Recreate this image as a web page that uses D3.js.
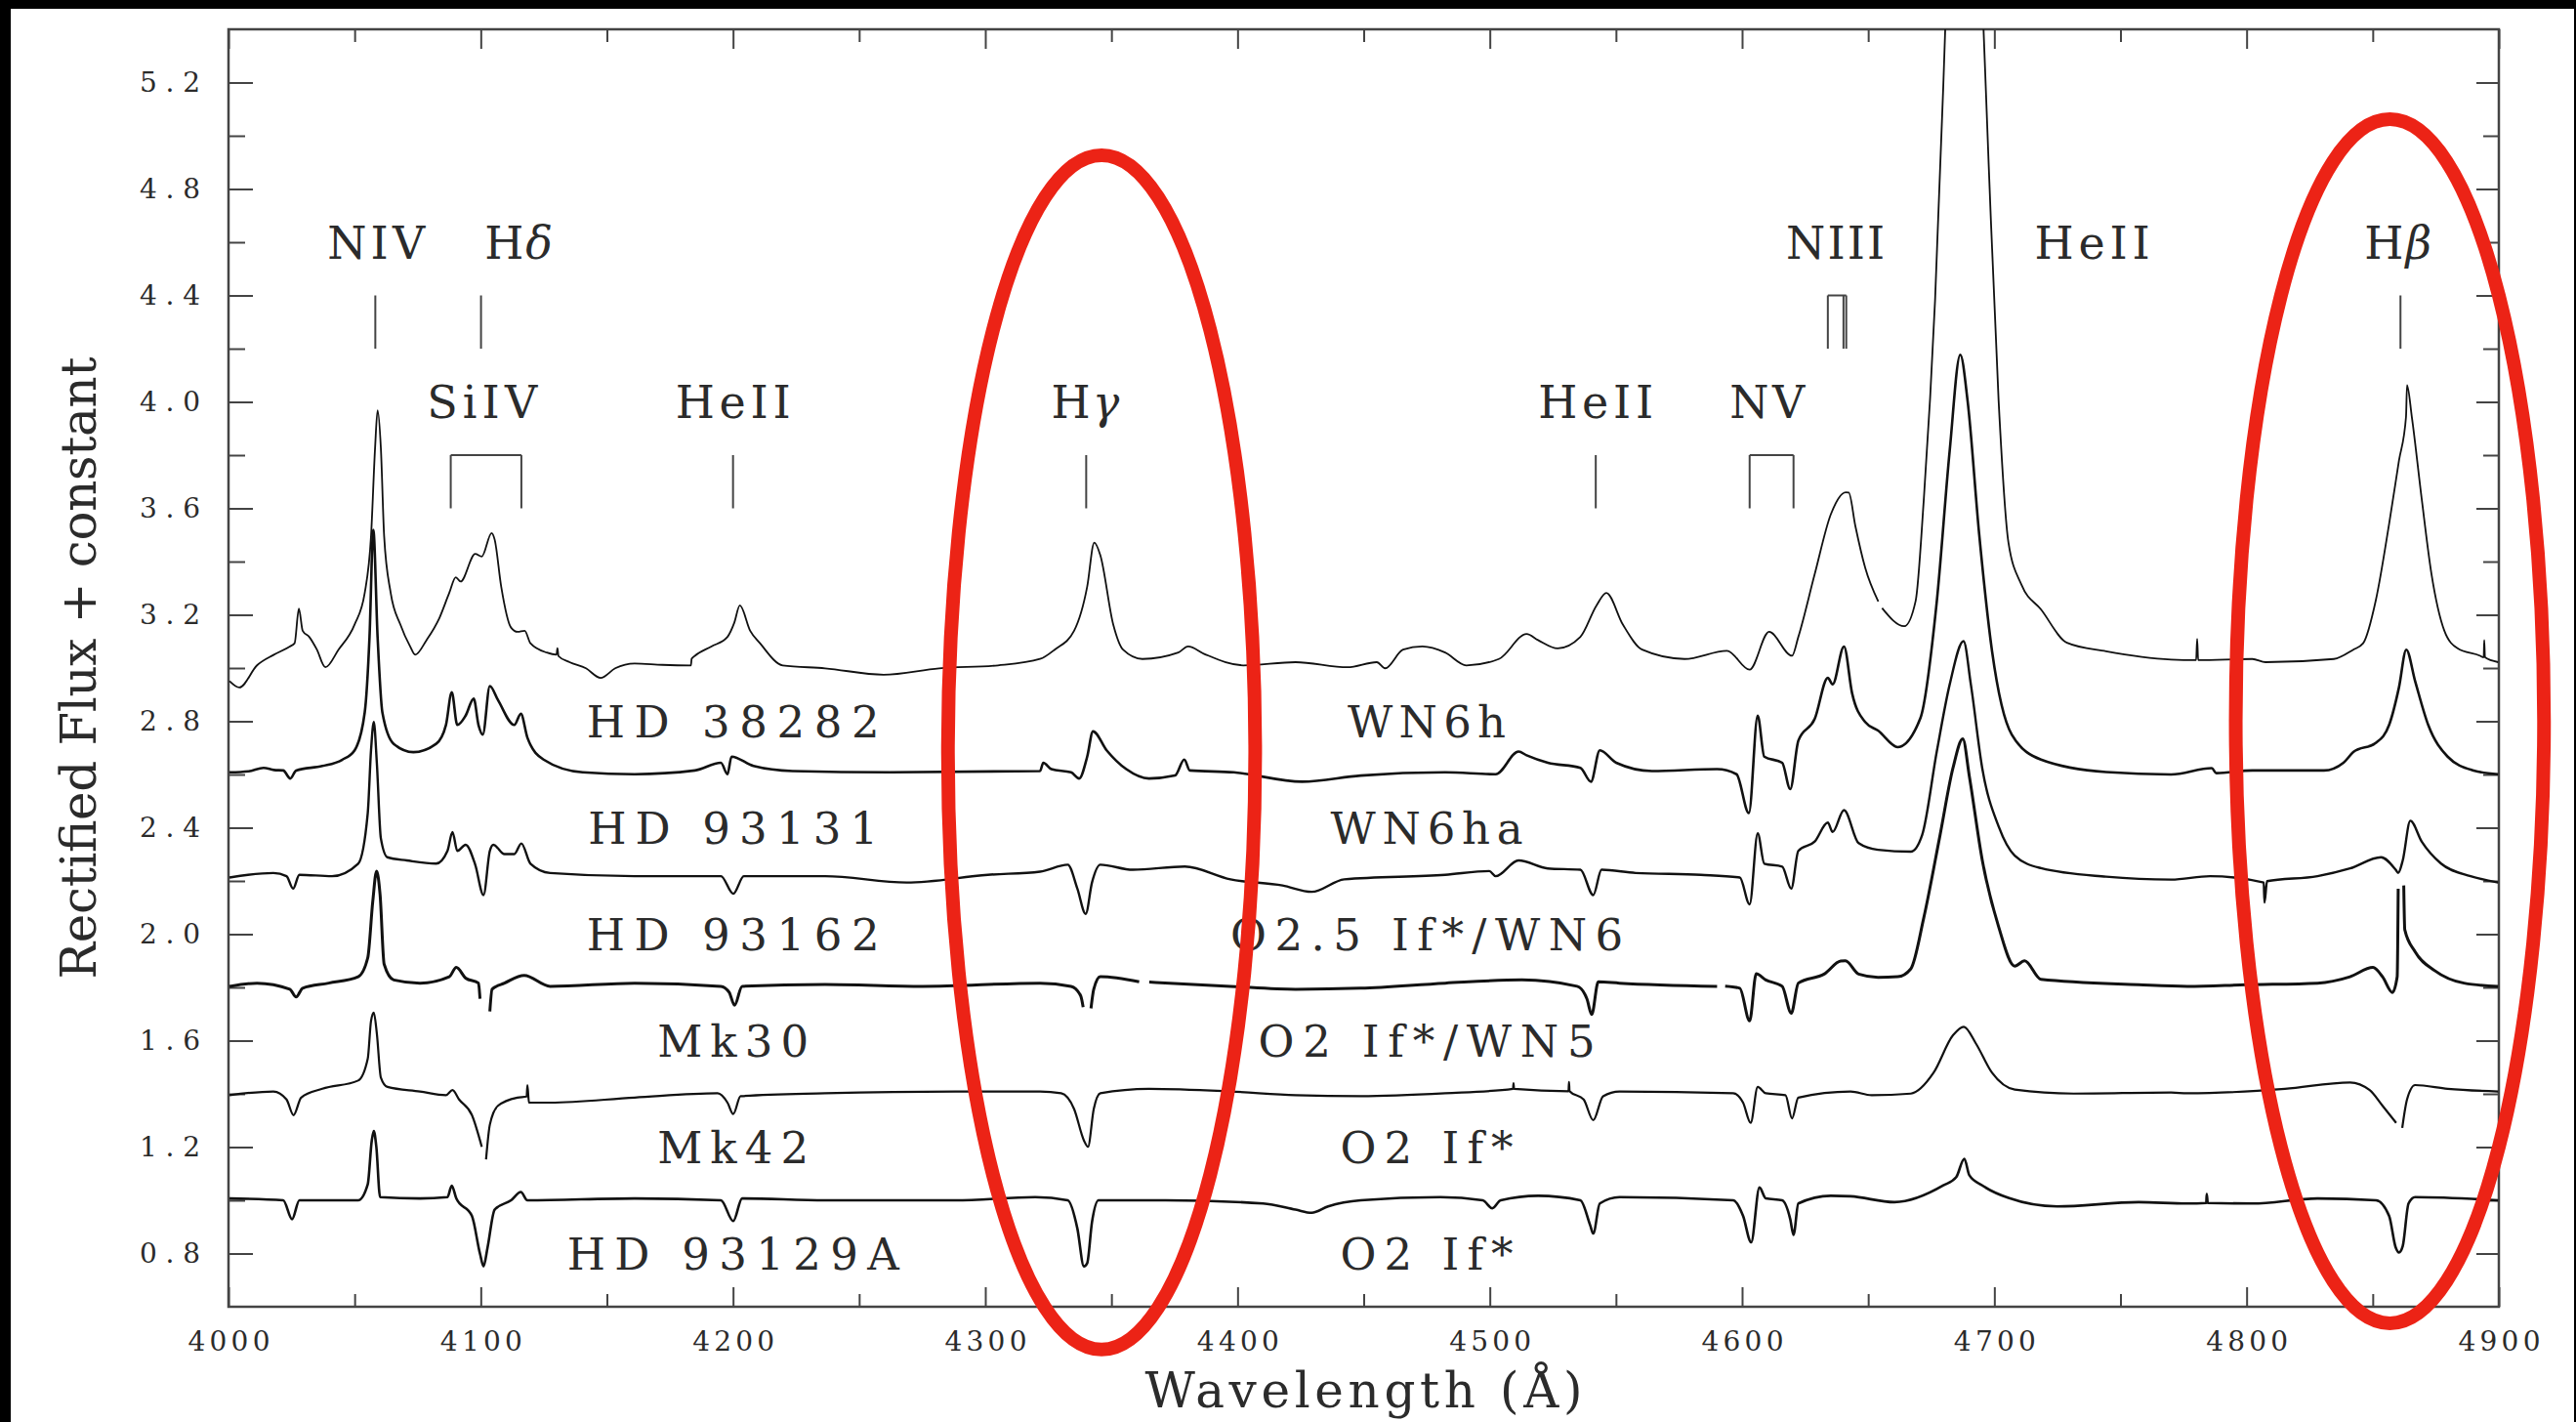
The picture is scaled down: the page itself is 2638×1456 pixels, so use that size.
<!DOCTYPE html>
<html>
<head>
<meta charset="utf-8">
<script src="https://cdn.jsdelivr.net/npm/d3@7"></script>
<style>
  html, body { margin: 0; padding: 0; background: #fff; }
  svg { display: block; }
</style>
</head>
<body>
<svg id="chart" width="2638" height="1456"></svg>
<script>
// ---------------------------------------------------------------
// Rectified blue-optical spectra of early WN / O2 If* stars,
// each shifted by a constant (continuum levels 3.0 ... 1.0).
// Points are [wavelength (Å), rectified flux + offset]; null = gap.
// ---------------------------------------------------------------
const waveDomain = [4000, 4900];
const fluxDomain = [0.6, 5.4];

const waveTicks = [4000, 4100, 4200, 4300, 4400, 4500, 4600, 4700, 4800, 4900];
const waveMinorTicks = [4050, 4150, 4250, 4350, 4450, 4550, 4650, 4750, 4850];
const fluxTicks = [0.8, 1.2, 1.6, 2.0, 2.4, 2.8, 3.2, 3.6, 4.0, 4.4, 4.8, 5.2];
const fluxMinorTicks = [1.0, 1.4, 1.8, 2.2, 2.6, 3.0, 3.4, 3.8, 4.2, 4.6, 5.0];

const specHD38282 = [
  [4000.4,2.951],[4004.3,2.927],[4011.3,3.01],[4018,3.05],[4024.3,3.081],[4026.2,3.093],[4027.9,3.223],
  [4029.4,3.14],[4032,3.117],[4035,3.07],[4038.4,3.003],[4043.6,3.069],[4050,3.164],[4054,3.282],
  [4056.5,3.495],[4058.1,3.826],[4059.1,3.968],[4060.4,3.826],[4061.7,3.495],[4064.3,3.282],[4068.1,3.164],
  [4072,3.081],[4074,3.05],[4078.5,3.105],[4083.6,3.188],[4087.5,3.282],[4090.1,3.341],[4092,3.325],
  [4097.8,3.429],[4100.4,3.419],[4104.3,3.507],[4105.5,3.483],[4108.1,3.306],[4112,3.152],[4114.6,3.136],
  [4117.4,3.14],[4119.7,3.093],[4126.2,3.058],[4130,3.05],[4130.4,3.075],[4130.8,3.045],[4135.2,3.022],
  [4141.7,2.999],[4147.5,2.963],[4153.3,2.999],[4161,3.017],[4172,3.012],[4183.3,3.01],[4183.6,3.035],
  [4184.9,3.046],[4191.4,3.081],[4197.8,3.117],[4200.5,3.17],[4202.7,3.235],[4206.8,3.14],[4210.7,3.093],
  [4219.7,3.01],[4236.5,2.999],[4259.7,2.975],[4281.7,2.999],[4305,3.01],[4321.7,3.034],[4327.5,3.069],
  [4335.2,3.14],[4340.4,3.306],[4343.2,3.471],[4345.6,3.424],[4350.7,3.164],[4354.6,3.069],[4362.3,3.034],
  [4376.5,3.058],[4380.4,3.081],[4386.8,3.053],[4402.3,3.01],[4423,3.022],[4443.6,3.003],[4455.2,3.022],
  [4458.5,2.999],[4465.6,3.069],[4473.3,3.081],[4482.3,3.058],[4490.7,3.01],[4503.6,3.034],[4514.6,3.128],
  [4519.1,3.105],[4526.9,3.074],[4535.9,3.117],[4542.3,3.235],[4546.2,3.282],[4552.7,3.164],[4560.4,3.069],
  [4577.2,3.034],[4594,3.065],[4603,2.994],[4610.7,3.136],[4619.8,3.046],[4622.3,3.117],[4628.8,3.353],
  [4635.2,3.578],[4641.1,3.66],[4642.3,3.659],[4644.9,3.534],[4648.8,3.377],[4654,3.25],null,
  [4655.5,3.225],[4664.3,3.157],[4668.8,3.252],[4672,3.628],[4676.5,4.381],[4679.8,5.196],[4682,5.8],
  [4685,6.4],[4688,6.6],[4691,6.4],[4694.5,5.7],[4697.8,4.883],[4701.7,4.004],[4705.6,3.471],
  [4710.7,3.314],[4718.5,3.22],[4728.8,3.095],[4744.3,3.063],[4770.1,3.032],[4780,3.03],[4780.4,3.11],
  [4780.8,3.03],[4802.3,3.034],[4807.5,3.022],[4834.6,3.034],[4842.3,3.069],[4846.2,3.093],[4851.3,3.258],
  [4856.5,3.542],[4860.4,3.779],[4863.2,3.944],[4863.6,4.063],[4865.5,3.944],[4869.4,3.637],[4873.3,3.353],
  [4878.4,3.14],[4883.6,3.074],[4892.6,3.046],[4894,3.04],[4894.2,3.105],[4894.5,3.04],[4899.7,3.022]
];

const specHD93131 = [
  [4000.4,2.608],[4008,2.612],[4013.9,2.625],[4018,2.617],[4021.7,2.615],[4024.5,2.585],[4026.8,2.615],
  [4037.2,2.632],[4045,2.655],[4050,2.691],[4054,2.833],[4055.9,3.117],[4057.4,3.519],[4059.1,3.117],
  [4061,2.833],[4065.5,2.715],[4073.3,2.684],[4082.3,2.715],[4086.2,2.786],[4088.5,2.909],[4090.7,2.786],
  [4094,2.821],[4097.2,2.885],[4099.1,2.786],[4100.8,2.75],[4103.6,2.932],[4106.8,2.88],[4113.3,2.786],
  [4115.9,2.828],[4118.5,2.738],[4124.9,2.656],[4140.4,2.608],[4161,2.601],[4184.9,2.615],[4195.2,2.644],
  [4197.8,2.601],[4199.4,2.667],[4208.1,2.632],[4223.6,2.613],[4262.3,2.608],[4321.7,2.613],[4323,2.644],
  [4326.2,2.62],[4334,2.608],[4337.2,2.585],[4340.4,2.667],[4342.7,2.762],[4348.1,2.691],[4355.9,2.62],
  [4364.9,2.585],[4375.2,2.596],[4378.9,2.656],[4381.1,2.615],[4398.5,2.608],[4425.6,2.573],[4448.8,2.596],
  [4482.3,2.608],[4502.3,2.601],[4511.4,2.686],[4514.6,2.672],[4523,2.644],[4535.9,2.625],[4540.1,2.573],
  [4543.6,2.691],[4550.1,2.644],[4564.3,2.613],[4590.1,2.62],[4597.8,2.601],[4602.7,2.455],[4606.2,2.821],
  [4608.8,2.667],[4615.9,2.644],[4619.1,2.545],[4622.3,2.727],[4628.8,2.809],[4634,2.963],[4635.9,2.939],
  [4640.4,3.081],[4643.6,2.906],[4648.8,2.797],[4653.9,2.765],[4661.7,2.703],[4670.7,2.812],[4677.2,3.251],
  [4682.3,3.816],[4686.5,4.177],[4689.4,4.004],[4694,3.502],[4699.1,3.063],[4706.9,2.75],[4718.5,2.656],
  [4744.3,2.609],[4770.1,2.6],[4786.2,2.624],[4788,2.605],[4802.3,2.615],[4830.7,2.615],[4838.4,2.644],
  [4842.3,2.684],[4851.3,2.719],[4856.5,2.786],[4860.4,2.927],[4863.3,3.069],[4866.8,2.951],[4872,2.786],
  [4879.7,2.667],[4890,2.615],[4899.7,2.601]
];

const specHD93162 = [
  [4000.4,2.213],[4017.8,2.23],[4023,2.218],[4025.6,2.171],[4028.1,2.223],[4041,2.218],[4051.4,2.265],
  [4055.2,2.455],[4056.5,2.691],[4057.6,2.797],[4058.8,2.644],[4060.4,2.36],[4063,2.289],[4070.7,2.277],
  [4082.3,2.265],[4086.8,2.313],[4088.8,2.384],[4090.7,2.313],[4094,2.336],[4097.8,2.261],[4101.1,2.147],
  [4103.6,2.313],[4105,2.336],[4109.4,2.301],[4113.3,2.301],[4116.1,2.341],[4119.7,2.265],[4127.5,2.23],
  [4161,2.218],[4195.2,2.218],[4200.1,2.152],[4204.3,2.218],[4236.5,2.218],[4268.8,2.194],[4301,2.223],
  [4321.7,2.235],[4332.7,2.261],[4336.5,2.171],[4339.8,2.076],[4342.3,2.194],[4345.6,2.261],[4358.5,2.242],
  [4379.1,2.254],[4397.2,2.206],[4417.8,2.183],[4429.4,2.159],[4442.3,2.206],[4482.3,2.223],[4499.8,2.237],
  [4502.3,2.218],[4511.4,2.277],[4523,2.247],[4535.9,2.242],[4541,2.147],[4544.3,2.242],[4557.8,2.23],
  [4583.6,2.223],[4599.1,2.213],[4603,2.112],[4606.2,2.379],[4608.8,2.265],[4615.9,2.254],[4619.5,2.171],
  [4622.3,2.313],[4628.8,2.348],[4634,2.419],[4635.9,2.384],[4640.4,2.466],[4646.2,2.342],[4653.9,2.317],
  [4666.9,2.31],[4671.4,2.373],[4677.2,2.687],[4682.3,2.938],[4687.8,3.101],[4690.7,2.938],[4695.2,2.624],
  [4701.7,2.405],[4708.1,2.295],[4718.5,2.248],[4744.3,2.216],[4770.1,2.205],[4785.5,2.218],[4806.8,2.194],
  [4807.1,2.119],[4808.1,2.199],[4828.1,2.218],[4841,2.247],[4853.3,2.289],[4859.1,2.242],[4860.1,2.23],
  [4861.9,2.277],[4864.9,2.426],[4869.4,2.348],[4877.1,2.265],[4888.8,2.218],[4899.7,2.194]
];

const specMk30 = [
  [4000.4,1.804],[4011.3,1.816],[4024.3,1.793],[4026.8,1.764],[4029.4,1.797],[4039.7,1.816],[4051.4,1.84],
  [4055.2,1.911],[4057.2,2.124],[4058.7,2.237],[4060.1,2.147],[4061.7,1.887],[4065.5,1.828],[4075.9,1.816],
  [4087.5,1.84],[4090.3,1.875],[4094,1.835],[4099.1,1.816],[4099.7,1.757],null,[4103.6,1.71],
  [4104.5,1.793],[4109.4,1.816],[4117.2,1.845],[4127.5,1.804],[4161,1.816],[4195.2,1.804],[4198.5,1.781],
  [4200.6,1.733],[4203.6,1.804],[4236.5,1.811],[4275.2,1.804],[4321.7,1.816],[4334,1.804],[4337.8,1.769],
  [4338.8,1.726],null,[4341.9,1.721],[4343,1.793],[4345.6,1.84],[4361,1.821],null,[4365,1.82],
  [4397.2,1.804],[4423,1.793],[4448.8,1.797],[4482.3,1.816],[4512.7,1.828],[4534.6,1.804],[4538.5,1.757],
  [4540.4,1.698],[4543,1.821],[4551.4,1.816],[4590.1,1.804],null,[4593.3,1.805],[4599.1,1.797],
  [4603,1.674],[4605.6,1.851],[4609.4,1.828],[4615.9,1.804],[4619.5,1.703],[4622.3,1.816],[4632.7,1.851],
  [4639.1,1.899],[4641,1.9],[4646.2,1.85],[4653.9,1.838],[4661.7,1.84],[4666.9,1.87],[4672,2.06],
  [4678.5,2.373],[4683.6,2.624],[4687.5,2.734],[4690.1,2.593],[4695.2,2.279],[4701.7,2.028],[4708.1,1.88],
  [4712,1.9],[4718.5,1.83],[4757.2,1.81],[4776.5,1.804],[4799.8,1.81],[4828.1,1.816],[4841,1.84],
  [4850.1,1.875],[4853.9,1.84],[4857.8,1.781],[4859.7,1.84],[4860.1,2.171],null,[4862.3,2.183],
  [4862.7,2.017],[4866.8,1.934],[4874.6,1.863],[4886.2,1.816],[4899.7,1.804]
];

const specMk42 = [
  [4000.4,1.395],[4017.8,1.409],[4023,1.379],[4025.8,1.32],[4028.8,1.386],[4037.2,1.419],[4051.4,1.45],
  [4055.2,1.532],[4056.5,1.674],[4057.6,1.705],[4058.8,1.627],[4060.4,1.461],[4063,1.426],[4075.9,1.409],
  [4086.2,1.395],[4088.8,1.414],[4091.4,1.379],[4096.5,1.32],[4100.4,1.201],null,[4102.1,1.154],
  [4103.6,1.284],[4106.8,1.355],[4114.6,1.386],[4118.2,1.39],[4118.5,1.433],[4119.1,1.367],[4127.5,1.367],
  [4161,1.386],[4193.9,1.402],[4197.8,1.367],[4200.1,1.324],[4203,1.391],[4236.5,1.402],[4288.1,1.409],
  [4321.7,1.409],[4330.1,1.402],[4335.2,1.343],[4339.1,1.225],[4340.7,1.201],[4343,1.343],[4345.6,1.402],
  [4364.9,1.419],[4397.2,1.409],[4423,1.395],[4448.8,1.391],[4482.3,1.402],[4509.2,1.419],[4509.4,1.44],
  [4509.6,1.419],[4531.2,1.41],[4531.4,1.445],[4531.6,1.41],[4537.2,1.379],[4541,1.301],[4544.9,1.391],
  [4551.4,1.409],[4596.5,1.402],[4600.4,1.367],[4603.4,1.291],[4606.2,1.426],[4609.4,1.402],[4617.2,1.395],
  [4619.8,1.308],[4622.3,1.386],[4643,1.409],[4651.4,1.395],[4666.9,1.401],[4675.9,1.479],[4683.6,1.62],
  [4687.9,1.652],[4692.7,1.589],[4699.1,1.479],[4708.1,1.416],[4731.4,1.401],[4770.1,1.405],[4776.5,1.402],
  [4815.2,1.419],[4841,1.443],[4848.8,1.414],[4853.9,1.355],[4859.3,1.291],null,[4861.7,1.272],
  [4863.6,1.379],[4866.8,1.433],[4879.7,1.419],[4899.7,1.409]
];

const specHD93129A = [
  [4000.4,1.007],[4021.7,1.0],[4025.2,0.929],[4028.1,1.0],[4051.4,1.0],[4055.2,1.06],[4056.8,1.225],
  [4057.6,1.26],[4058.6,1.201],[4060.1,1.012],[4075.9,1.007],[4086.8,1.012],[4088.5,1.055],[4090.3,1.007],
  [4096.5,0.941],[4099.7,0.799],[4101.1,0.752],[4102.7,0.823],[4105.5,0.965],[4112,1.0],[4115.9,1.031],
  [4118.5,1.0],[4161,1.007],[4195.2,1.0],[4200.1,0.922],[4203.6,1.007],[4236.5,1.0],[4288.1,1.0],
  [4319.8,1.012],[4332.7,1.0],[4336.5,0.894],[4339.1,0.752],[4340.4,0.764],[4342.3,0.918],[4344.9,1.0],
  [4371.4,1.0],[4410.1,0.988],[4423,0.965],[4429.4,0.953],[4435.9,0.977],[4448.8,1.0],[4480.4,1.012],
  [4497.2,1.0],[4501,0.97],[4504.3,1.0],[4519.1,1.017],[4535.9,1.0],[4539.8,0.906],[4541,0.875],
  [4543.6,0.988],[4551.4,1.012],[4596.5,1.0],[4600.4,0.941],[4603.6,0.842],[4606.9,1.048],[4609.4,1.007],
  [4615.9,1.0],[4619.1,0.929],[4620.4,0.87],[4622.3,0.988],[4635.2,1.017],[4643,1.015],[4660.4,0.993],
  [4679.8,1.056],[4684.9,1.087],[4688.1,1.156],[4690.1,1.094],[4695.2,1.056],[4705.6,1.009],[4724.9,0.977],
  [4757.2,0.993],[4776.5,0.988],[4784,0.99],[4784.2,1.024],[4784.6,0.99],[4802.3,0.988],[4828.1,1.007],
  [4851.3,1.0],[4856.5,0.941],[4859.1,0.823],[4860.4,0.804],[4861.9,0.828],[4864.2,0.988],[4866.8,1.012],
  [4899.7,1.0]
];

const spectra = [specHD38282, specHD93131, specHD93162, specMk30, specMk42, specHD93129A];

// Star names (left column) and spectral types (right column)
const starNames = ["HD 38282", "HD 93131", "HD 93162", "Mk30", "Mk42", "HD 93129A"];
const spectralTypes = ["WN6h", "WN6ha", "O2.5 If*/WN6", "O2 If*/WN5", "O2 If*", "O2 If*"];
const starLabelFlux = [2.8, 2.4, 2.0, 1.6, 1.2, 0.8];
const starNameWave = 4200;
const spectralTypeWave = 4475;

// Line identifications
const idName = ["NIV", "H", "NIII", "HeII", "H", "SiIV", "HeII", "H", "HeII", "NV"];
const idGreek = ["", "δ", "", "", "β", "", "", "γ", "", ""];
const idLabelWave = [4058.5, 4115.4, 4637, 4738.8, 4860.4, 4100.5, 4200, 4340, 4542, 4610];
const idLabelFlux = [4.6, 4.6, 4.6, 4.6, 4.6, 4.0, 4.0, 4.0, 4.0, 4.0];
const idMarkWaves = [[4058.2], [4100.1], [4634, 4640.2, 4641.3], [], [4861],
                     [4088.1, 4116.1], [4200], [4340], [4542], [4603, 4620.4]];

// Highlight rings: centre (Å, flux) and half-axes (Å, flux)
const ringWave = [4346.1, 4856.8];
const ringFlux = [2.683, 2.80];
const ringHalfWave = [60.9, 61.1];
const ringHalfFlux = [2.244, 2.262];

// ---------------------------------------------------------------
const W = 2638, H = 1456;
const L = 234, R = 2559, T = 30, B = 1338;
const ink = "#2b2b2b", axisInk = "#444";
const serif = "'DejaVu Serif', 'Liberation Serif', serif";

const svg = d3.select("#chart");
const x = d3.scaleLinear().domain(waveDomain).range([L, R]);
const y = d3.scaleLinear().domain(fluxDomain).range([B, T]);

svg.append("rect").attr("width", W).attr("height", H).attr("fill", "#fff");

// clip for the spectra
svg.append("defs").append("clipPath").attr("id", "plotClip")
  .append("rect").attr("x", L).attr("y", T).attr("width", R - L).attr("height", B - T);

// --- axes -------------------------------------------------------
function styleAxis(g) {
  g.select(".domain").remove();
  g.selectAll(".tick line").attr("stroke", axisInk).attr("stroke-width", 2);
  g.selectAll(".tick text").attr("fill", ink);
  g.attr("font-family", serif).attr("font-size", 28);
}

svg.append("g").attr("transform", `translate(0,${B})`)
  .call(d3.axisBottom(x).tickValues(waveTicks).tickSize(-20).tickPadding(25).tickFormat(d3.format("d")))
  .call(styleAxis)
  .call(g => g.selectAll(".tick text").attr("textLength", 84).attr("lengthAdjust", "spacing"));
svg.append("g").attr("transform", `translate(0,${B})`)
  .call(d3.axisBottom(x).tickValues(waveMinorTicks).tickSize(-13).tickFormat(""))
  .call(styleAxis);
svg.append("g").attr("transform", `translate(0,${T})`)
  .call(d3.axisTop(x).tickValues(waveTicks).tickSize(-20).tickFormat(""))
  .call(styleAxis);
svg.append("g").attr("transform", `translate(0,${T})`)
  .call(d3.axisTop(x).tickValues(waveMinorTicks).tickSize(-13).tickFormat(""))
  .call(styleAxis);

svg.append("g").attr("transform", `translate(${L},0)`)
  .call(d3.axisLeft(y).tickValues(fluxTicks).tickSize(-25).tickPadding(29).tickFormat(d3.format(".1f")))
  .call(styleAxis)
  .call(g => g.selectAll(".tick text").attr("textLength", 62).attr("lengthAdjust", "spacing"));
svg.append("g").attr("transform", `translate(${L},0)`)
  .call(d3.axisLeft(y).tickValues(fluxMinorTicks).tickSize(-17).tickFormat(""))
  .call(styleAxis);
svg.append("g").attr("transform", `translate(${R},0)`)
  .call(d3.axisRight(y).tickValues(fluxTicks).tickSize(-23).tickFormat(""))
  .call(styleAxis);
svg.append("g").attr("transform", `translate(${R},0)`)
  .call(d3.axisRight(y).tickValues(fluxMinorTicks).tickSize(-16).tickFormat(""))
  .call(styleAxis);

svg.append("rect").attr("x", L).attr("y", T).attr("width", R - L).attr("height", B - T)
  .attr("fill", "none").attr("stroke", axisInk).attr("stroke-width", 2.5);

// axis titles
svg.append("text")
  .attr("transform", `translate(98,${(T + B) / 2}) rotate(-90)`)
  .attr("text-anchor", "middle").attr("font-family", serif).attr("font-size", 50)
  .attr("fill", ink).attr("textLength", 637).attr("lengthAdjust", "spacing")
  .text("Rectified Flux + constant");
svg.append("text")
  .attr("x", (L + R) / 2).attr("y", 1441)
  .attr("text-anchor", "middle").attr("font-family", serif).attr("font-size", 50)
  .attr("fill", ink).attr("textLength", 448).attr("lengthAdjust", "spacing")
  .text("Wavelength (Å)");

// --- spectra ----------------------------------------------------
const spectrumWidth = [1.8, 2.6, 2.4, 3.0, 2.2, 2.6];
const line = d3.line()
  .defined(d => d !== null)
  .x(d => x(d[0])).y(d => y(d[1]))
  .curve(d3.curveMonotoneX);

svg.append("g").attr("clip-path", "url(#plotClip)")
  .selectAll("path").data(spectra).join("path")
  .attr("d", line)
  .attr("fill", "none")
  .attr("stroke", "#111")
  .attr("stroke-width", (d, i) => spectrumWidth[i])
  .attr("stroke-linejoin", "round");

// --- line identifications ---------------------------------------
const idTextLength = { "NIV": 100, "NIII": 101, "HeII": 118, "SiIV": 113, "NV": 77 };
const ids = svg.append("g").attr("fill", ink).attr("font-family", serif).attr("font-size", 46);
idName.forEach((name, i) => {
  const t = ids.append("text")
    .attr("x", x(idLabelWave[i])).attr("y", y(idLabelFlux[i]))
    .attr("dy", "0.36em").attr("text-anchor", "middle");
  if (idGreek[i]) {
    t.attr("letter-spacing", 2);
    t.append("tspan").text(name);
    t.append("tspan").attr("font-style", "italic").text(idGreek[i]);
  } else {
    t.text(name).attr("textLength", idTextLength[name]).attr("lengthAdjust", "spacing");
  }
  const marks = idMarkWaves[i];
  if (!marks.length) return;
  const top = idLabelFlux[i] - 0.2, bot = idLabelFlux[i] - 0.4;
  const mg = svg.append("g").attr("stroke", axisInk).attr("stroke-width", 2).attr("fill", "none");
  marks.forEach(w => {
    mg.append("line").attr("x1", x(w)).attr("x2", x(w)).attr("y1", y(top)).attr("y2", y(bot));
  });
  if (marks.length > 1) {
    mg.append("line").attr("x1", x(d3.min(marks))).attr("x2", x(d3.max(marks)))
      .attr("y1", y(top)).attr("y2", y(top));
  }
});

// --- star labels --------------------------------------------------
const labelLength = {
  "HD 38282": 300, "HD 93131": 297, "HD 93162": 300, "Mk30": 155, "Mk42": 155, "HD 93129A": 340,
  "WN6h": 162, "WN6ha": 197, "O2.5 If*/WN6": 402, "O2 If*/WN5": 345, "O2 If*": 177
};
const lab = svg.append("g").attr("fill", ink).attr("font-family", serif).attr("font-size", 45)
  .attr("text-anchor", "middle");
starNames.forEach((n, i) => {
  lab.append("text").attr("x", x(starNameWave)).attr("y", y(starLabelFlux[i])).attr("dy", "0.36em")
    .attr("textLength", labelLength[n]).attr("lengthAdjust", "spacing").text(n);
  const s = spectralTypes[i];
  lab.append("text").attr("x", x(spectralTypeWave)).attr("y", y(starLabelFlux[i])).attr("dy", "0.36em")
    .attr("textLength", labelLength[s]).attr("lengthAdjust", "spacing").text(s);
});

// --- highlight rings ------------------------------------------------
svg.append("g").selectAll("ellipse").data(ringWave).join("ellipse")
  .attr("cx", d => x(d))
  .attr("cy", (d, i) => y(ringFlux[i]))
  .attr("rx", (d, i) => x(d + ringHalfWave[i]) - x(d))
  .attr("ry", (d, i) => y(ringFlux[i] - ringHalfFlux[i]) - y(ringFlux[i]))
  .attr("fill", "none").attr("stroke", "#ec2316").attr("stroke-width", 14);

// --- black picture border -----------------------------------------
svg.append("rect").attr("x", 0).attr("y", 0).attr("width", W).attr("height", 9).attr("fill", "#000");
svg.append("rect").attr("x", 0).attr("y", 0).attr("width", 11).attr("height", H).attr("fill", "#000");
svg.append("rect").attr("x", W - 2).attr("y", 0).attr("width", 2).attr("height", H).attr("fill", "#000");
</script>
</body>
</html>
